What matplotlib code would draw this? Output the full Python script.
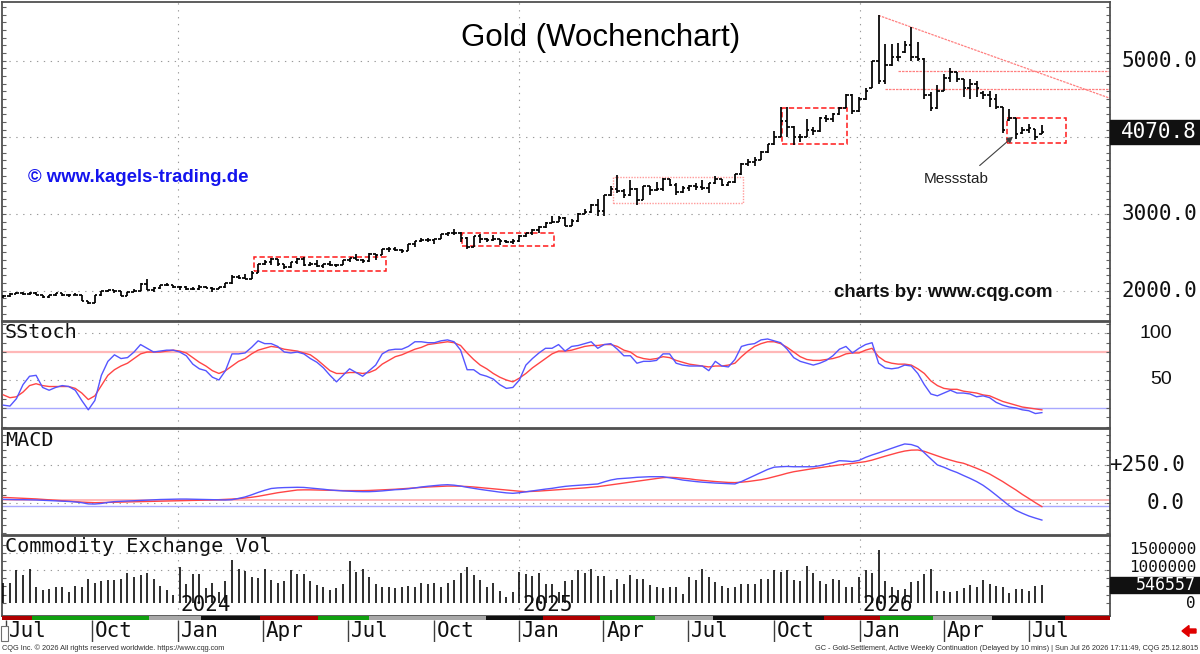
import numpy as np
import pandas as pd
import matplotlib
matplotlib.use("Agg")
import matplotlib.pyplot as plt
import matplotlib.dates as mdates
from matplotlib.patches import Rectangle, FancyArrow
from matplotlib.transforms import blended_transform_factory, offset_copy

# ---------------- data ----------------
week_start = "2023-06-28"
n_weeks = 160

bar_open = [1925,1932,1964,1966,1960,1976,1946,1916,1940,1966,
 1942,1946,1945,1866,1845,1941,1994,2006,1999,1938,
 1985,2003,2089,2014,2035,2069,2072,2050,2051,2029,
 2018,2053,2038,2024,2045,2096,2185,2161,2160,2238,
 2345,2374,2413,2347,2309,2375,2419,2335,2348,2325,
 2349,2334,2339,2397,2421,2402,2386,2480,2471,2546,
 2546,2537,2524,2610,2646,2668,2667,2676,2736,2755,
 2749,2694,2570,2716,2681,2657,2671,2645,2634,2655,
 2716,2748,2791,2835,2887,2900,2953,2848,2915,3001,
 3022,3114,3035,3245,3328,3298,3247,3329,3187,3365,
 3315,3331,3452,3385,3287,3342,3363,3359,3336,3399,
 3458,3382,3418,3517,3653,3680,3705,3809,3912,4000,
 4213,4137,4000,4010,4094,4080,4255,4243,4300,4380,
 4550,4340,4500,4650,4990,4740,4950,5050,5110,5200,
 5050,5020,4550,4380,4600,4780,4850,4760,4650,4700,
 4580,4550,4500,4400,4230,4250,4060,4100,4110,4050]

bar_high = [1942,1966,1990,1986,1985,1980,1950,1950,1975,1968,
 1952,1970,1950,1870,1945,2000,2010,2012,2000,1990,
 2020,2095,2150,2050,2075,2096,2080,2065,2060,2045,
 2075,2060,2045,2050,2100,2200,2200,2225,2255,2350,
 2400,2430,2420,2355,2380,2425,2440,2370,2400,2355,
 2390,2350,2400,2430,2485,2410,2490,2485,2550,2570,
 2570,2545,2615,2650,2690,2690,2680,2740,2760,2800,
 2760,2700,2720,2740,2685,2730,2680,2665,2680,2725,
 2755,2800,2850,2895,2970,2975,2960,2935,3017,3065,
 3130,3200,3250,3360,3510,3330,3440,3345,3370,3370,
 3420,3470,3460,3400,3370,3375,3400,3450,3410,3500,
 3460,3420,3520,3660,3715,3745,3820,3920,4080,4390,
 4398,4150,4050,4240,4130,4260,4290,4320,4400,4570,
 4560,4520,4640,5000,5590,5220,5220,5230,5260,5440,
 5240,5030,4590,4680,4830,4905,4850,4760,4765,4740,
 4600,4610,4560,4400,4375,4250,4140,4180,4115,4160]

bar_low = [1910,1925,1955,1946,1944,1940,1912,1912,1936,1935,
 1925,1940,1862,1823,1840,1935,1980,1970,1935,1932,
 1980,2000,2010,1990,2025,2060,2035,2015,2010,2010,
 2015,2030,1990,2020,2040,2090,2150,2150,2160,2230,
 2330,2340,2320,2290,2300,2355,2325,2325,2310,2300,
 2320,2310,2330,2380,2395,2360,2380,2400,2465,2505,
 2525,2490,2520,2575,2640,2640,2605,2670,2710,2730,
 2640,2540,2565,2620,2630,2650,2600,2620,2615,2640,
 2700,2730,2750,2820,2880,2900,2840,2845,2900,2995,
 3010,2975,2970,3230,3270,3210,3240,3120,3180,3250,
 3300,3300,3370,3250,3280,3300,3320,3320,3270,3390,
 3360,3360,3400,3510,3630,3630,3700,3790,3900,4000,
 4004,3900,3935,4000,4030,4075,4200,4200,4290,4380,
 4310,4330,4490,4650,4700,4700,4930,4990,5100,5000,
 5000,4500,4345,4370,4600,4720,4720,4520,4500,4525,
 4500,4400,4375,4060,4220,3985,4050,4060,3965,4040]

bar_close = [1932,1964,1966,1960,1976,1946,1916,1940,1966,1942,
 1946,1945,1866,1845,1941,1994,2006,1999,1938,1985,
 2003,2089,2014,2035,2069,2072,2050,2051,2029,2018,
 2053,2038,2024,2045,2096,2185,2161,2160,2238,2345,
 2374,2413,2347,2309,2375,2419,2335,2348,2325,2349,
 2334,2339,2397,2421,2402,2386,2480,2471,2546,2546,
 2537,2524,2610,2646,2668,2667,2676,2736,2755,2749,
 2694,2570,2716,2681,2657,2671,2645,2634,2655,2716,
 2748,2791,2835,2887,2900,2953,2848,2915,3001,3022,
 3114,3035,3245,3328,3298,3247,3329,3187,3365,3315,
 3331,3452,3385,3287,3342,3363,3359,3336,3399,3458,
 3382,3418,3517,3653,3680,3705,3809,3912,4000,4213,
 4137,4000,4010,4094,4080,4255,4243,4300,4380,4550,
 4340,4500,4600,4990,4740,4950,5050,5050,5200,5050,
 5020,4550,4380,4600,4780,4850,4760,4650,4700,4650,
 4550,4500,4400,4100,4250,4050,4100,4120,4000,4070.8]

stoch_k = [23,22,30,45,54,55,42,39,42,44, 43,39,28,18,28,55,70,77,73,74,
 80,88,84,80,81,82,82,80,76,67, 62,60,53,50,60,78,78,79,85,92,
 89,89,86,80,79,80,78,73,69,63, 55,48,55,62,58,54,60,66,78,82,
 83,83,86,91,91,90,90,92,93,91, 82,61,61,56,54,51,45,41,42,50,
 66,73,79,84,84,88,81,86,87,89, 91,84,88,89,83,76,76,68,70,70,
 71,78,78,68,66,65,65,65,60,70, 65,64,72,86,88,89,93,94,92,90,
 83,74,70,68,66,68,71,76,83,86, 79,84,88,90,68,63,62,63,66,65,
 57,45,35,33,36,39,36,36,35,32, 33,31,26,23,21,20,18,17,14,15]

stoch_d = [34,31,32,37,44,46,44,43,43,43, 43,41,36,29,33,44,55,61,65,68,
 73,78,80,80,80,81,82,81,79,74, 69,65,60,57,60,65,70,73,78,82,
 84,86,85,83,82,81,79,77,72,66, 60,57,57,58,58,57,58,61,67,71,
 75,77,80,83,85,88,89,90,91,90, 87,79,72,66,62,57,53,50,48,52,
 57,63,68,73,78,81,81,82,84,86, 87,87,88,88,86,82,80,75,73,72,
 73,75,74,71,69,67,66,65,64,65, 65,66,68,75,81,86,89,91,91,89,
 85,80,75,72,71,71,72,73,75,78, 79,79,82,84,75,70,68,67,67,66,
 62,57,49,44,41,40,40,38,37,36, 34,33,30,27,25,23,21,20,19,18]

macd_line = [22,21,20,20,19,18, 16,14,12,10,8,5,0,-8, -9,-5,2,7,
 9,11,13,15,17,19,21,22,23,24, 24,23,22,21,20,19,18,
 20,28,38,52,68,82,94, 98,100,101,102,101, 97,93,89,84,
 81,78,76,74,73,73, 75,78,82,86,88, 92,98,104,109,113,117,119,
 116,110,102,95, 88,82,76,70,65,62, 66,72,78,84,90,95,
 102,108,112,115,118,121,124, 138,150,158,161,164,168,170,172,172,172,
 165,158,150,145,140,136,133, 130,128,126,124,
 140,160,180,200,220,235,238, 240,238,238,238,238,
 245,255,265,278, 276,272,280,300,316, 330,345,360,375,389, 385,371,
 330,290,250,235,216, 200,180,161, 140,115,84, 50,15,-20,-50,
 -70,-88,-102,-115]

macd_signal = [35,33,31,29,27,25, 22,19,16,13,10,7,4,2,0, 1,2,3,4,5,6,
 7,8,9,10,11,12,13,14,15,16,17,18,20,22,
 24,27,31,36,42,50,58,66,72,78,84,
 85,85,84,83,82,81,80,80,80,80,
 81,83,85,87,89,92,95,98,101,104,106,108,110,
 110,109,107,104,100,96,92,88,84,80,76,73,
 75,77,80,83,86,89,92,95,98,102,106,
 112,118,124,130,136,142,148,154,160,166,
 168,166,162,158,152,148,144,140,137,134,
 133,136,140,146,152,161, 172,183,195,205,
 212,219,226,232,238,244,250,255,260,266,272,
 282,295,308,320,332,342,348,349,
 340,325,310,295,282,270,261, 245,228,210,190,165,
 140,112,85,55,28,0,-26]

volume_k = [590,590,990,840,1010,490,390,410,470,490, 340,510,490,710,610,670,690,690,710,890,
 770,840,890,710,510,390,240,
 1070,570,870,870,440,610,340,670,1290,1010, 970,770,740,1010,690,610,670,990,870,870,
 670,540,490,390,440,570,1270,940,1010,770, 570,490,470,440,470,510,490,610,570,590,
 490,590,690,890,1070,840,690,470,610,370, 190,340,940,880,
 810,900,580,580,330,660,690,980,890,1030,810,
 810,390,710,560,840,710,730,530,480,460, 480,480,260,790,690,1030,780,640,500,460,
 480,560,580,560,730,730,980,920,980,690, 660,1100,890,660,560,710,690,480,470,780,
 1000,900,1590,660,480,390,430,630,660,860, 1030,360,360,330,360,460,530,480,690,580,
 500,480,290,410,430,360,500,546.557]

last_price = 4070.8
last_volume = 546557

# annotation drawings on the price panel (date, price)
boxes = [("2024-03-23", "2024-08-11", 2262, 2445, "dash"),
         ("2024-11-01", "2025-02-07", 2584, 2757, "dash"),
         ("2025-04-11", "2025-08-29", 3149, 3480, "light"),
         ("2025-10-09", "2025-12-18", 3914, 4380, "dash"),
         ("2026-06-08", "2026-08-10", 3931, 4249, "dash")]
trend_line = [("2026-01-21", 5590), ("2026-09-26", 4510)]
level_lines = [("2026-02-11", 4865), ("2026-01-28", 4627)]

# coloured strip along the time axis
strip = [("2023-06-20", "2023-07-29", "#b00000"), ("2023-07-29", "2023-12-01", "#10a010"),
         ("2023-12-01", "2024-01-26", "#a8a8a8"), ("2024-01-26", "2024-03-29", "#101010"),
         ("2024-03-29", "2024-05-30", "#b00000"), ("2024-05-30", "2024-07-24", "#10a010"),
         ("2024-07-24", "2024-11-26", "#a8a8a8"), ("2024-11-26", "2025-01-26", "#101010"),
         ("2025-01-26", "2025-03-28", "#b00000"), ("2025-03-28", "2025-05-26", "#10a010"),
         ("2025-05-26", "2025-07-27", "#a8a8a8"), ("2025-07-27", "2025-11-23", "#101010"),
         ("2025-11-23", "2026-01-23", "#b00000"), ("2026-01-23", "2026-03-20", "#10a010"),
         ("2026-03-20", "2026-05-22", "#a8a8a8"), ("2026-05-22", "2026-08-09", "#101010"),
         ("2026-08-09", "2026-09-30", "#b00000")]

# ---------------- figure ----------------
plt.rcParams['font.family'] = ['Liberation Sans', 'DejaVu Sans']
W, H = 1200, 654
fig = plt.figure(figsize=(12, 6.54), dpi=100)
fig.patch.set_facecolor('white')

def fx(px):
    return px / W

def fy(py):
    return 1 - py / H

def add_ax(top, bottom):
    return fig.add_axes([fx(2), fy(bottom), fx(1110) - fx(2), (bottom - top) / H])

ax_p = add_ax(2, 321)
ax_s = add_ax(322, 428)
ax_m = add_ax(429, 535)
ax_v = add_ax(536, 616)
ax_t = add_ax(616, 642)

weeks = pd.date_range(week_start, periods=n_weeks, freq="7D")
x = mdates.date2num(weeks)
xlim = (mdates.date2num(pd.Timestamp("2023-06-26 12:00")), mdates.date2num(pd.Timestamp("2026-09-26")))

MONO = "DejaVu Sans Mono"
GRID = dict(color="#9a9a9a", lw=0.8, ls=(0, (1.2, 5)), zorder=0.5)
years = [pd.Timestamp(f"{y}-01-01") for y in (2024, 2025, 2026)]

for ax in (ax_p, ax_s, ax_m, ax_v, ax_t):
    ax.set_xlim(*xlim)
    ax.set_xticks([])
    for s in ax.spines.values():
        s.set_color("#505050")
        s.set_linewidth(1.3)
    ax.tick_params(axis="y", which="both", direction="in", left=True, right=True,
                   labelleft=False, labelright=False, length=3, width=0.8, color="#606060")

for ax in (ax_p, ax_s, ax_m, ax_v):
    for yv in years:
        ax.axvline(mdates.date2num(yv), **GRID)

# ---- price panel ----
ax_p.set_ylim(1606, 5765)
ax_p.set_yticks(np.arange(1700, 5800, 100))
for lvl in (2000, 3000, 4000, 5000):
    ax_p.axhline(lvl, **GRID)
tick = 2.8
ax_p.vlines(x, bar_low, bar_high, color="black", lw=1.25, zorder=3)
ax_p.hlines(bar_open, x - tick, x, color="black", lw=1.25, zorder=3)
ax_p.hlines(bar_close, x, x + tick, color="black", lw=1.25, zorder=3)

for d0, d1, p0, p1, kind in boxes:
    a = mdates.date2num(pd.Timestamp(d0)); b = mdates.date2num(pd.Timestamp(d1))
    if kind == "dash":
        rect = Rectangle((a, p0), b - a, p1 - p0, fill=False, ec="#ff1a1a", lw=1.1,
                         ls=(0, (3.5, 1.8)), zorder=2)
    else:
        rect = Rectangle((a, p0), b - a, p1 - p0, fill=False, ec="#ff9a9a", lw=1.0,
                         ls=(0, (1, 1)), zorder=2)
    ax_p.add_patch(rect)

tl_x = [mdates.date2num(pd.Timestamp(d)) for d, _ in trend_line]
tl_y = [p for _, p in trend_line]
ax_p.plot(tl_x, tl_y, color="#ff8080", lw=0.9, ls=(0, (2, 0.8)), zorder=2)
for d, p in level_lines:
    ax_p.plot([mdates.date2num(pd.Timestamp(d)), xlim[1]], [p, p], color="#ff8080", lw=0.9,
              ls=(0, (2, 0.8)), zorder=2)

ax_p.annotate("Messstab", xy=(mdates.date2num(pd.Timestamp("2026-06-14")), 4009),
              xytext=(mdates.date2num(pd.Timestamp("2026-04-14")), 3458),
              ha="center", va="center", fontsize=11, color="#202020",
              arrowprops=dict(arrowstyle="-|>", color="#404040", lw=0.8,
                              relpos=(0.75, 1.0), shrinkA=4, shrinkB=0, mutation_scale=9))

tp = blended_transform_factory(fig.transFigure, ax_p.transData)
for v in (5000, 3000, 2000):
    ax_p.text(fx(1197), v, f"{v:.1f}", transform=tp, ha="right", va="center",
              family=MONO, fontsize=15, color="#101010", clip_on=False)
ax_p.add_patch(Rectangle((fx(1110), last_price - 160), fx(90), 320, transform=tp,
                         color="#111111", clip_on=False, zorder=5))
ax_p.text(fx(1197), last_price, f"{last_price:.1f}", transform=tp, ha="right", va="center",
          family=MONO, fontsize=15, color="white", clip_on=False, zorder=6)

# ---- SStoch ----
ax_s.set_ylim(-1.5, 112.2)
ax_s.set_yticks(np.arange(0, 111, 10))
for lvl in (100, 50):
    ax_s.axhline(lvl, **GRID)
ax_s.axhline(80, color="#ffb8b8", lw=1.6, zorder=1)
ax_s.axhline(20, color="#a8a8ff", lw=1.0, zorder=1)
ax_s.plot(x, stoch_d, color="#ff4545", lw=1.0, zorder=3)
ax_s.plot(x, stoch_k, color="#5555ff", lw=1.0, zorder=4)
ts = blended_transform_factory(fig.transFigure, ax_s.transData)
for v in (100, 50):
    ax_s.text(fx(1172), v, f"{v}", transform=ts, ha="right", va="center",
              family="Liberation Sans", fontsize=14, color="#101010", clip_on=False)

# ---- MACD ----
ax_m.set_ylim(-214, 488)
ax_m.set_yticks(np.arange(-200, 490, 50))
for lvl in (250, 0):
    ax_m.axhline(lvl, **GRID)
ax_m.axhline(15, color="#ffb8b8", lw=1.4, zorder=1)
ax_m.axhline(-22, color="#a8a8ff", lw=1.0, zorder=1)
ax_m.plot(x, macd_signal, color="#ff4545", lw=1.0, zorder=3)
ax_m.plot(x, macd_line, color="#5555ff", lw=1.0, zorder=4)
tm = blended_transform_factory(fig.transFigure, ax_m.transData)
ax_m.text(fx(1185), 250, "+250.0", transform=tm, ha="right", va="center",
          family=MONO, fontsize=15, color="#101010", clip_on=False)
ax_m.text(fx(1185), 0, "0.0", transform=tm, ha="right", va="center",
          family=MONO, fontsize=15, color="#101010", clip_on=False)

# ---- Volume ----
vol = np.array(volume_k) * 1000
ax_v.set_ylim(-0.39e6, 2.01e6)
ax_v.set_yticks(np.arange(0, 2.0e6, 250000))
for lvl in (1.0e6, 1.5e6):
    ax_v.axhline(lvl, **GRID)
ax_v.vlines(x, 0, vol, color="black", lw=1.15, zorder=3)
tv = blended_transform_factory(fig.transFigure, ax_v.transData)
vol_label_pos = {1500000: 1.62e6, 1000000: 1.08e6, 0: 0.0}
for v, pos in vol_label_pos.items():
    ax_v.text(fx(1196), pos, f"{v}", transform=tv, ha="right", va="center",
              family=MONO, fontsize=11.5, color="#101010", clip_on=False)
ax_v.add_patch(Rectangle((fx(1110), last_volume - 240000), fx(90), 480000, transform=tv,
                         color="#111111", clip_on=False, zorder=5))
ax_v.text(fx(1196), last_volume - 15000, f"{last_volume}", transform=tv, ha="right", va="center",
          family=MONO, fontsize=12, color="white", clip_on=False, zorder=6)
yr_off = offset_copy(ax_v.transData, fig=fig, x=3, y=0, units="dots")
for yv in years:
    ax_v.text(mdates.date2num(yv), -0.06e6, str(yv.year), transform=yr_off, ha="left",
              va="center", family=MONO, fontsize=15, color="#101010", zorder=6)

# ---- time axis ----
ax_t.set_ylim(0, 1)
for s in ax_t.spines.values():
    s.set_visible(False)
ax_t.tick_params(axis="y", which="both", left=False, right=False)
for d0, d1, c in strip:
    a = mdates.date2num(pd.Timestamp(d0)); b = mdates.date2num(pd.Timestamp(d1))
    ax_t.axvspan(a, b, ymin=0.85, ymax=1.0, color=c, lw=0)
months = pd.date_range("2023-07-01", "2026-07-01", freq="QS")
m_off = offset_copy(ax_t.transData, fig=fig, x=3, y=0, units="dots")
for m in months:
    mx = mdates.date2num(m)
    ax_t.vlines(mx, 0.0, 0.85, color="#404040", lw=1.0)
    ax_t.text(mx, 0.42, m.strftime("%b"), transform=m_off, ha="left", va="center",
              family=MONO, fontsize=15, color="#101010")
fig.patches.append(Rectangle((fx(1), fy(641)), fx(7), 15 / H, transform=fig.transFigure,
                             fill=True, fc="white", ec="#707070", lw=0.8))
fig.patches.append(FancyArrow(fx(1196), fy(631), -fx(14), 0, width=4 / H, head_width=11 / H,
                              head_length=fx(7), length_includes_head=True,
                              transform=fig.transFigure, color="#e00000"))

# ---- texts ----
fig.text(fx(601), fy(38), "Gold (Wochenchart)", ha="center", va="center", fontsize=22.5, color="black")
fig.text(fx(138), fy(178), "© www.kagels-trading.de", ha="center", va="center", fontsize=13.4,
         fontweight="bold", color="#1414ee")
fig.text(fx(943), fy(292), "charts by: www.cqg.com", ha="center", va="center", fontsize=13.4,
         fontweight="bold", color="#111111")
fig.text(fx(5), fy(333), "SStoch", ha="left", va="center", family=MONO, fontsize=14.5, color="#101010")
fig.text(fx(5), fy(440), "MACD", ha="left", va="center", family=MONO, fontsize=14.5, color="#101010")
fig.text(fx(5), fy(547), "Commodity Exchange Vol", ha="left", va="center", family=MONO, fontsize=14.5,
         color="#101010")
fig.text(fx(2), fy(648), "CQG Inc. © 2026 All rights reserved worldwide. https://www.cqg.com",
         ha="left", va="center", fontsize=5.3, color="#303030")
fig.text(fx(1198), fy(648),
         "GC - Gold-Settlement, Active Weekly Continuation (Delayed by 10 mins) | Sun Jul 26 2026 17:11:49, CQG 25.12.8015",
         ha="right", va="center", fontsize=5.3, color="#303030")

fig.savefig("out.png", dpi=100, facecolor="white")
